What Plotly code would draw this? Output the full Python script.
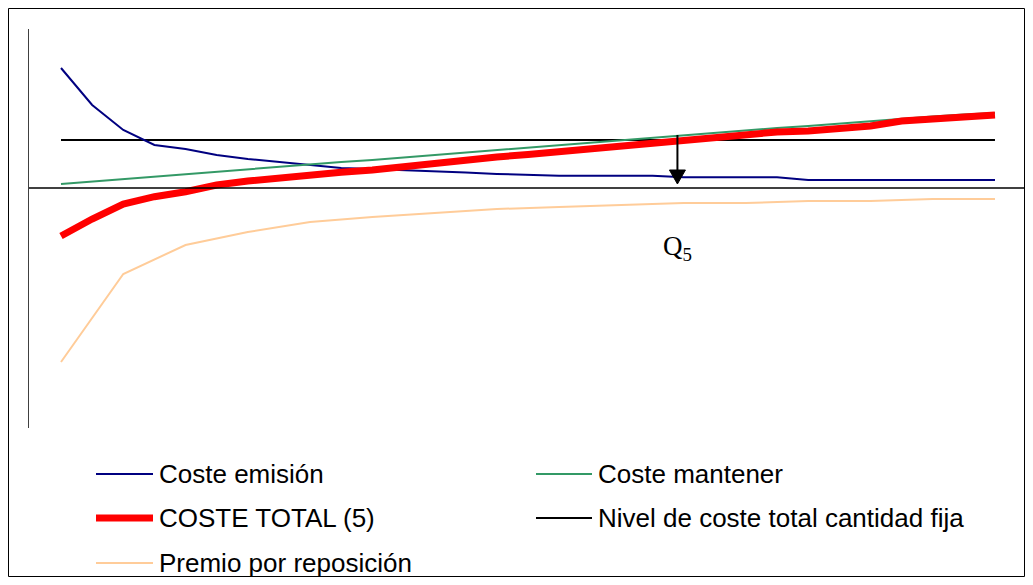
import plotly.graph_objects as go

# ---------------- data ----------------
q = [1, 2, 3, 4, 5, 6, 7, 8, 9, 10, 11, 12, 13, 14, 15, 16,
     17, 18, 19, 20, 21, 22, 23, 24, 25, 26, 27, 28, 29, 30, 31]

coste_emision = [120, 83, 58, 43, 39, 33, 29, 26, 22.6, 20, 19, 18, 17, 15.5, 14, 13,
                 12.3, 12.3, 12.3, 12.3, 10.7, 10.7, 10.7, 10.7, 8, 8, 8, 8, 8, 8, 8]

coste_mantener = [4, 6.5, 9, 11, 13.5, 16, 18.5, 21, 23.5, 26, 28, 30.5, 33, 35.5, 38, 40.5,
                  43, 45, 47.5, 50, 52.5, 55, 57.5, 60, 62, 64.5, 67, 69.5, 71.5, 73.5, 75]

coste_total = [-48, -31, -16, -8.7, -3.7, 3, 7, 10.3, 12.3, 15.7, 18, 21.5, 25, 28, 31, 33.5,
               36.3, 39.3, 42.8, 46.3, 48.2, 50.7, 53.2, 56, 57, 59.5, 62, 67, 69.5, 71.5, 73]

nivel_fijo = [48, 48, 48, 48, 48, 48, 48, 48, 48, 48, 48, 48, 48, 48, 48, 48,
              48, 48, 48, 48, 48, 48, 48, 48, 48, 48, 48, 48, 48, 48, 48]

q_premio = [1, 3, 5, 7, 9, 11, 13, 15, 17, 19, 21, 23, 25, 27, 29, 31]
premio_reposicion = [-174, -86, -57, -44, -34, -29, -25, -21, -19, -17, -15, -15, -13, -13, -11, -11]

q5_position = 20.8
q5_top = 53
q5_tip = 4

legend_names = ["Coste emisión", "COSTE TOTAL (5)", "Premio por reposición",
                "Coste mantener", "Nivel de coste total cantidad fija"]

# ---------------- styles ----------------
C_BLUE = "#000080"
C_GREEN = "#339966"
C_RED = "#FF0000"
C_ORANGE = "#FFCC99"
C_BLACK = "#000000"

W, H = 1017, 569
ML, MR, MT, MB = 21, 2, 21, 149
PW = W - ML - MR
PH = H - MT - MB


def px(xf):
    return (xf - ML) / PW


def py(yf):
    return (H - MB - yf) / PH


fig = go.Figure()

fig.add_trace(go.Scatter(x=q_premio, y=premio_reposicion, mode="lines", name=legend_names[2],
                         line=dict(color=C_ORANGE, width=2), showlegend=False))
fig.add_trace(go.Scatter(x=q, y=nivel_fijo, mode="lines", name=legend_names[4],
                         line=dict(color=C_BLACK, width=2), showlegend=False))
fig.add_trace(go.Scatter(x=q, y=coste_emision, mode="lines", name=legend_names[0],
                         line=dict(color=C_BLUE, width=2), showlegend=False))
fig.add_trace(go.Scatter(x=q, y=coste_mantener, mode="lines", name=legend_names[3],
                         line=dict(color=C_GREEN, width=2), showlegend=False))
fig.add_trace(go.Scatter(x=q, y=coste_total, mode="lines", name=legend_names[1],
                         line=dict(color=C_RED, width=7), showlegend=False))

shapes = []
# zero line
shapes.append(dict(type="line", xref="paper", yref="y", x0=0, x1=px(1020), y0=0, y1=0,
                   line=dict(color="#000000", width=1.3)))
# outer border
shapes.append(dict(type="rect", xref="paper", yref="paper",
                   x0=px(0.5), x1=px(1016.5), y0=py(568.5), y1=py(0.5),
                   line=dict(color="#000000", width=1)))

# Q5 arrow: shaft + head
shapes.append(dict(type="line", xref="x", yref="y", x0=q5_position, x1=q5_position,
                   y0=q5_top, y1=q5_tip + 10, line=dict(color="#000000", width=2)))
shapes.append(dict(type="path", xref="x", yref="y", xsizemode="pixel", ysizemode="pixel",
                   xanchor=q5_position, yanchor=q5_tip,
                   path="M-8,14 L8,14 L0,0 Z",
                   fillcolor="#000000", line=dict(color="#000000", width=1)))

# manual legend
leg_rows = [466, 510, 555]
leg_items = [
    (88, 145, leg_rows[0], C_BLUE, 2, legend_names[0]),
    (88, 145, leg_rows[1], C_RED, 7, legend_names[1]),
    (88, 145, leg_rows[2], C_ORANGE, 2, legend_names[2]),
    (528, 584, leg_rows[0], C_GREEN, 2, legend_names[3]),
    (528, 584, leg_rows[1], C_BLACK, 2, legend_names[4]),
]
annotations = []
for x0, x1, yy, col, wd, name in leg_items:
    shapes.append(dict(type="line", xref="paper", yref="paper",
                       x0=px(x0), x1=px(x1), y0=py(yy), y1=py(yy),
                       line=dict(color=col, width=wd)))
    annotations.append(dict(xref="paper", yref="paper", x=px(x1 + 4), y=py(yy),
                            text=name, showarrow=False, xanchor="left", yanchor="middle",
                            font=dict(family="Liberation Sans, Arial", size=26, color="#000000")))

annotations.append(dict(xref="paper", yref="paper", x=px(653), y=py(240),
                        text="Q<sub>5</sub>", showarrow=False, xanchor="left", yanchor="middle",
                        font=dict(family="Liberation Serif, Times New Roman", size=27, color="#000000")))

fig.update_layout(
    width=W, height=H,
    margin=dict(l=ML, r=MR, t=MT, b=MB),
    paper_bgcolor="white", plot_bgcolor="white",
    showlegend=False,
    shapes=shapes,
    annotations=annotations,
    xaxis=dict(range=[-0.028, 31.9], showgrid=False, zeroline=False, showline=False,
               showticklabels=False, ticks=""),
    yaxis=dict(range=[-240, 159], showgrid=False, zeroline=False, showline=True,
               linecolor="#404040", linewidth=1, showticklabels=False, ticks=""),
)

fig.write_html("out.html")
